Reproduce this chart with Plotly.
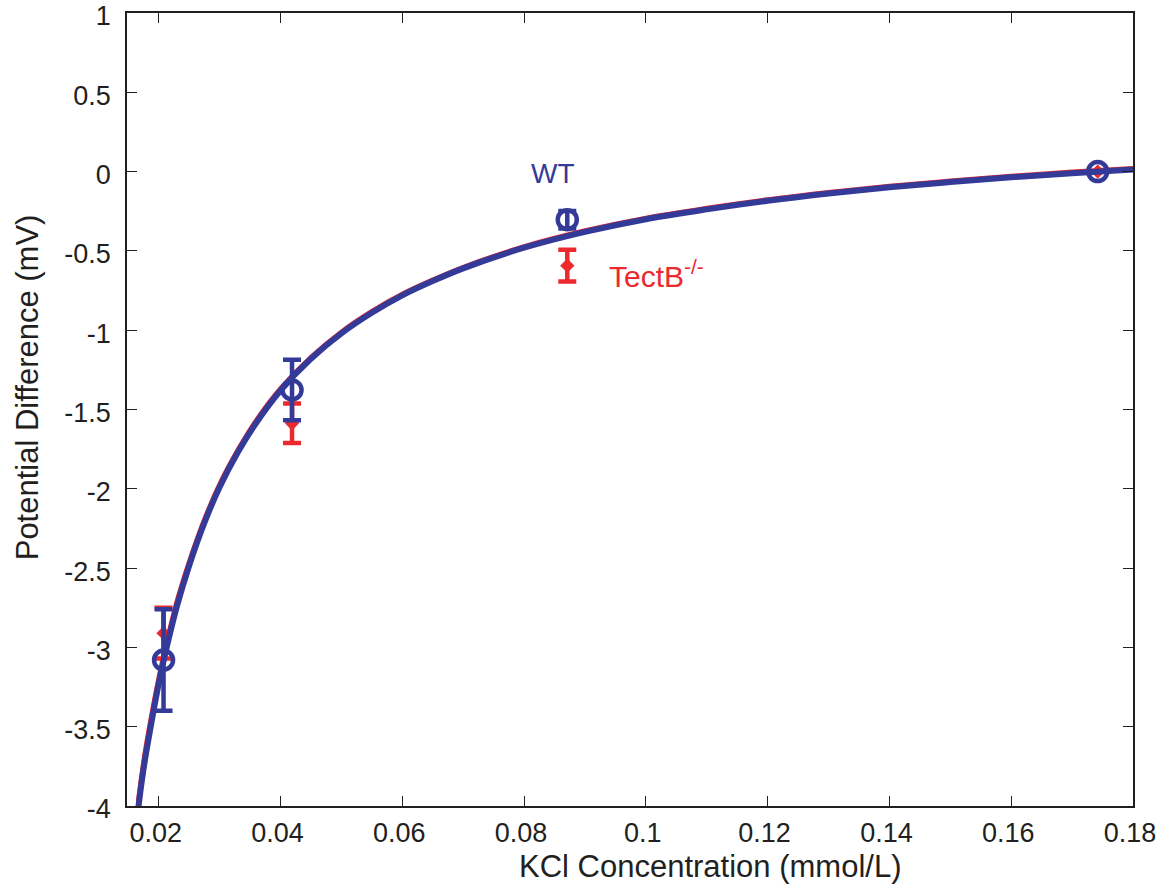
import plotly.graph_objects as go

# ---- data ----
conc = [0.0208, 0.0419, 0.0871, 0.1742]

wt_mean = [-3.08, -1.377, -0.303, 0.0]
wt_err = [0.32, 0.19, 0.055, 0.0]

ko_mean = [-2.91, -1.587, -0.593, 0.0]
ko_err = [0.16, 0.125, 0.10, 0.0]

fit_x = [0.0165, 0.0175, 0.0186, 0.0200, 0.0215, 0.0230, 0.0250, 0.0275, 0.0300,
         0.0330, 0.0360, 0.0400, 0.0450, 0.0500, 0.0550, 0.0600, 0.0650, 0.0700,
         0.0800, 0.0900, 0.1000, 0.1100, 0.1200, 0.1300, 0.1400, 0.1500, 0.1600,
         0.1700, 0.1800]
wt_fit = [-4.06, -3.77, -3.52, -3.23, -2.97, -2.74, -2.485, -2.215, -1.99,
          -1.77, -1.585, -1.38, -1.18, -1.02, -0.89, -0.78, -0.69, -0.61,
          -0.48, -0.38, -0.30, -0.238, -0.184, -0.138, -0.099, -0.066, -0.036,
          -0.010, 0.013]
ko_fit = [-3.97, -3.69, -3.445, -3.17, -2.915, -2.69, -2.445, -2.18, -1.96,
          -1.745, -1.56, -1.36, -1.163, -1.004, -0.875, -0.766, -0.677, -0.597,
          -0.467, -0.367, -0.287, -0.225, -0.171, -0.125, -0.086, -0.053, -0.023,
          0.003, 0.026]

x_ticks = [0.02, 0.04, 0.06, 0.08, 0.1, 0.12, 0.14, 0.16, 0.18]
x_tick_text = ["0.02", "0.04", "0.06", "0.08", "0.1", "0.12", "0.14", "0.16", "0.18"]
y_ticks = [1, 0.5, 0, -0.5, -1, -1.5, -2, -2.5, -3, -3.5, -4]
y_tick_text = ["1", "0.5", "0", "-0.5", "-1", "-1.5", "-2", "-2.5", "-3", "-3.5", "-4"]

BLUE = "#343A98"
RED = "#EC2A2E"
INK = "#231F20"
FONT = "Liberation Sans, Arial, Helvetica, sans-serif"

fig = go.Figure()

# TectB-/- points
fig.add_trace(go.Scatter(
    x=conc, y=ko_mean, mode="markers",
    marker=dict(symbol="diamond", size=11, color=RED),
    error_y=dict(type="data", array=ko_err, color=RED, thickness=4.5, width=9),
    showlegend=False, cliponaxis=False))

# fit curves
fig.add_trace(go.Scatter(x=fit_x, y=ko_fit, mode="lines",
                         line=dict(color=RED, width=3, shape="spline"),
                         showlegend=False))
fig.add_trace(go.Scatter(x=fit_x, y=wt_fit, mode="lines",
                         line=dict(color=BLUE, width=6, shape="spline"),
                         showlegend=False))

# WT points
fig.add_trace(go.Scatter(
    x=conc, y=wt_mean, mode="markers",
    marker=dict(symbol="circle-open", size=19, color=BLUE, line=dict(width=4.5, color=BLUE)),
    error_y=dict(type="data", array=wt_err, color=BLUE, thickness=4.5, width=9),
    showlegend=False, cliponaxis=False))

fig.add_annotation(x=0.0808, y=-0.015, xref="x", yref="y", text="WT",
                   showarrow=False, xanchor="left", yanchor="middle",
                   font=dict(family=FONT, size=28, color=BLUE))
fig.add_annotation(x=0.0937, y=-0.645, xref="x", yref="y", text="TectB<sup>-/-</sup>",
                   showarrow=False, xanchor="left", yanchor="middle",
                   font=dict(family=FONT, size=30, color=RED))

# axis titles
fig.add_annotation(x=0.5795, y=-0.0765, xref="paper", yref="paper",
                   text="KCl Concentration (mmol/L)", showarrow=False,
                   xanchor="center", yanchor="middle",
                   font=dict(family=FONT, size=31, color=INK))
fig.add_annotation(x=-0.0994, y=0.528, xref="paper", yref="paper",
                   text="Potential Difference (mV)", showarrow=False, textangle=-90,
                   xanchor="center", yanchor="middle",
                   font=dict(family=FONT, size=31, color=INK))

axis_common = dict(
    showline=True, linecolor=INK, linewidth=1.6, mirror="ticks",
    ticks="inside", ticklen=10, tickwidth=1.3, tickcolor=INK,
    showgrid=False, zeroline=False, automargin=False,
    ticklabeloverflow="allow",
    tickfont=dict(family=FONT, size=27, color=INK),
)

fig.update_xaxes(range=[0.0148, 0.18], tickvals=x_ticks, ticktext=x_tick_text,
                 ticklabelstandoff=2, ticklabelshift=-3, **axis_common)
fig.update_yaxes(range=[-4, 1], tickvals=y_ticks, ticktext=y_tick_text,
                 ticklabelstandoff=9, ticklabelshift=3, **axis_common)

fig.update_layout(
    width=1169, height=892,
    margin=dict(l=127, r=36, t=13, b=86),
    paper_bgcolor="white", plot_bgcolor="white",
)

fig.write_html("out.html")
